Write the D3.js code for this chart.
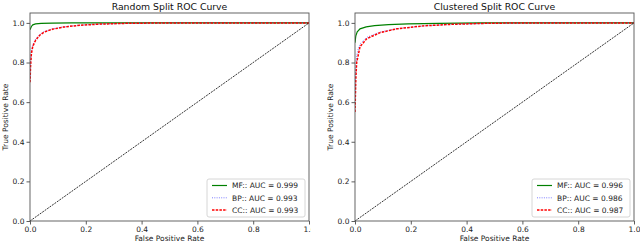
<!DOCTYPE html>
<html>
<head>
<meta charset="utf-8">
<script src="https://cdn.jsdelivr.net/npm/d3@7"></script>
<style>
body { margin: 0; background: #fff; }
svg { display: block; font-family: "DejaVu Sans", sans-serif; }
</style>
</head>
<body>
<div id="chart"></div>
<script>
var svgWidth = 640;
var svgHeight = 244;

// ROC points [fpr, tpr]
var randomMF = [[0,0.965],[0.005,0.982],[0.01,0.99],[0.02,0.995],[0.04,0.998],[0.08,0.999],[0.15,1],[1,1]];
var randomBP = [[0,0.72],[0.002,0.8],[0.005,0.855],[0.01,0.89],[0.02,0.918],[0.035,0.942],[0.05,0.956],[0.08,0.97],[0.12,0.98],[0.18,0.989],[0.25,0.994],[0.35,0.998],[0.5,1],[1,1]];
var randomCC = [[0,0.70],[0.002,0.78],[0.005,0.845],[0.01,0.882],[0.02,0.912],[0.035,0.938],[0.05,0.953],[0.08,0.968],[0.12,0.979],[0.18,0.988],[0.25,0.994],[0.35,0.998],[0.5,1],[1,1]];

var clusterMF = [[0,0.90],[0.003,0.935],[0.008,0.955],[0.018,0.97],[0.04,0.98],[0.07,0.986],[0.12,0.991],[0.19,0.995],[0.3,0.998],[0.45,1],[1,1]];
var clusterBP = [[0,0.62],[0.002,0.75],[0.006,0.835],[0.012,0.872],[0.02,0.897],[0.042,0.927],[0.09,0.954],[0.15,0.971],[0.25,0.985],[0.35,0.993],[0.5,0.998],[0.7,1],[1,1]];
var clusterCC = [[0,0.55],[0.003,0.72],[0.006,0.80],[0.018,0.88],[0.042,0.92],[0.09,0.951],[0.15,0.97],[0.245,0.985],[0.35,0.993],[0.47,0.998],[0.6,1],[1,1]];

var diagonal = [[0,0],[1,1]];

var randomLabels = ["MF:: AUC = 0.999", "BP:: AUC = 0.993", "CC:: AUC = 0.993"];
var clusterLabels = ["MF:: AUC = 0.996", "BP:: AUC = 0.986", "CC:: AUC = 0.987"];

var xTicks = [0, 0.2, 0.4, 0.6, 0.8, 1.0];
var yTicks = [0, 0.2, 0.4, 0.6, 0.8, 1.0];

var styles = [
	{color: "#008000", width: 1.2, dash: null, opacity: 1},
	{color: "#0000ff", width: 1, dash: "1,1.3", opacity: 0.5},
	{color: "#ff0000", width: 1.5, dash: "2.5,1.2", opacity: 1}
];

var svg = d3.select("#chart")
		.append("svg")
		.attr("width", svgWidth)
		.attr("height", svgHeight);

svg.append("defs").append("clipPath")
		.attr("id", "leftclip")
		.append("rect")
		.attr("x", 0).attr("y", 0)
		.attr("width", 311).attr("height", svgHeight);

function panel(g, left, right, title, series, labels) {
	var top = 13, bottom = 221;

	var x = d3.scaleLinear().domain([0, 1]).range([left, right]);
	var y = d3.scaleLinear().domain([0, 1.05]).range([bottom, top]);

	var line = d3.line()
		.x(function(d) { return x(d[0]); })
		.y(function(d) { return y(d[1]); });

	var clipId = "plot" + left;
	g.append("clipPath").attr("id", clipId)
		.append("rect")
		.attr("x", left).attr("y", top)
		.attr("width", right - left).attr("height", bottom - top);

	var plot = g.append("g").attr("clip-path", "url(#" + clipId + ")");

	series.forEach(function(s, i) {
		var st = styles[i];
		plot.append("path")
			.datum(s)
			.attr("fill", "none")
			.attr("stroke", st.color)
			.attr("stroke-width", st.width)
			.attr("stroke-opacity", st.opacity)
			.attr("stroke-dasharray", st.dash)
			.attr("d", line);
	});

	plot.append("path")
		.datum(diagonal)
		.attr("fill", "none")
		.attr("stroke", "#000")
		.attr("stroke-width", 0.8)
		.attr("stroke-dasharray", "2,1")
		.attr("d", line);

	var xAxis = g.append("g")
		.attr("transform", "translate(0," + bottom + ")")
		.call(d3.axisBottom(x).tickValues(xTicks).tickFormat(d3.format(".1f")).tickSize(3.5).tickPadding(2));

	var yAxis = g.append("g")
		.attr("transform", "translate(" + left + ",0)")
		.call(d3.axisLeft(y).tickValues(yTicks).tickFormat(d3.format(".1f")).tickSize(3.5).tickPadding(2));

	[xAxis, yAxis].forEach(function(a) {
		a.select(".domain").remove();
		a.selectAll("line").attr("stroke", "#333").attr("stroke-width", 0.8);
		a.selectAll("text")
			.attr("fill", "#222")
			.style("font-size", "7.5px")
			.style("font-family", "DejaVu Sans, sans-serif");
	});

	g.append("rect")
		.attr("x", left).attr("y", top)
		.attr("width", right - left).attr("height", bottom - top)
		.attr("fill", "none")
		.attr("stroke", "#555")
		.attr("stroke-width", 0.9);

	g.append("text")
		.attr("x", (left + right) / 2)
		.attr("y", 10)
		.attr("text-anchor", "middle")
		.attr("fill", "#111")
		.style("font-size", "9.3px")
		.text(title);

	g.append("text")
		.attr("x", (left + right) / 2)
		.attr("y", 241)
		.attr("text-anchor", "middle")
		.attr("fill", "#222")
		.style("font-size", "7.5px")
		.text("False Positive Rate");

	g.append("text")
		.attr("transform", "translate(" + (left - 22.5) + "," + ((top + bottom) / 2) + ") rotate(-90)")
		.attr("text-anchor", "middle")
		.attr("fill", "#222")
		.style("font-size", "7.5px")
		.text("True Positive Rate");

	// legend
	var lx = right - 102, ly = 179, lw = 98, lh = 38;
	var leg = g.append("g");
	leg.append("rect")
		.attr("x", lx).attr("y", ly)
		.attr("width", lw).attr("height", lh)
		.attr("rx", 2)
		.attr("fill", "#fff")
		.attr("fill-opacity", 0.8)
		.attr("stroke", "#ccc")
		.attr("stroke-width", 0.8);

	labels.forEach(function(t, i) {
		var st = styles[i];
		var yy = ly + 6.5 + i * 12.3;
		leg.append("line")
			.attr("x1", lx + 5).attr("x2", lx + 20)
			.attr("y1", yy).attr("y2", yy)
			.attr("stroke", st.color)
			.attr("stroke-width", st.width)
			.attr("stroke-opacity", st.opacity)
			.attr("stroke-dasharray", st.dash);
		leg.append("text")
			.attr("x", lx + 25)
			.attr("y", yy + 2.7)
			.attr("fill", "#222")
			.style("font-size", "7.5px")
			.text(t);
	});
}

var leftG = svg.append("g").attr("clip-path", "url(#leftclip)");
panel(leftG, 30, 309, "Random Split ROC Curve", [randomMF, randomBP, randomCC], randomLabels);

var rightG = svg.append("g");
panel(rightG, 355, 634, "Clustered Split ROC Curve", [clusterMF, clusterBP, clusterCC], clusterLabels);
</script>
</body>
</html>
